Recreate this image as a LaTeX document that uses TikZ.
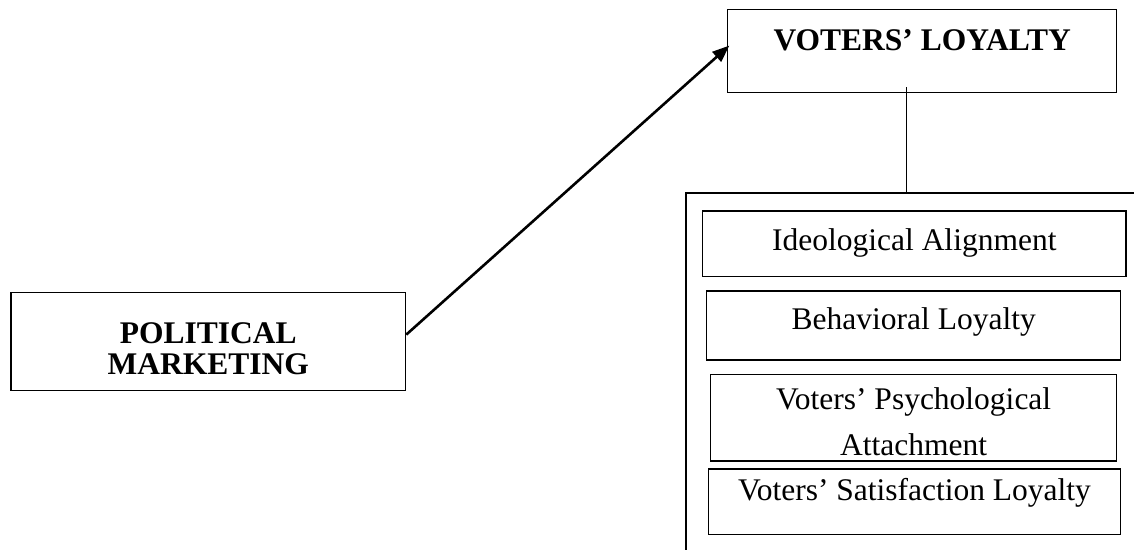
\documentclass[tikz,border=0pt]{standalone}
\usepackage{fontspec}
\setmainfont{Liberation Serif}
\usetikzlibrary{arrows.meta}

\begin{document}
\begin{tikzpicture}[x=1pt, y=-1pt, >={Triangle[length=17pt, width=13pt]},
  box/.style={draw, line width=1.3pt, inner sep=0pt, align=center},
  head/.style={box, font=\fontsize{31.5}{31}\selectfont\bfseries},
  item/.style={box, font=\fontsize{31.5}{45.7}\selectfont}]
  \useasboundingbox (0,0) rectangle (1134,550);
  % left and top boxes
  \node[head, minimum width=394.7pt, text height=82pt, text depth=16.4pt] (pm) at (208.3,341.5) {POLITICAL\\MARKETING};
  \node[head, minimum width=389pt, text height=40.7pt, text depth=42.7pt] (vl) at (922.2,51) {VOTERS’ LOYALTY};
  % dimensions
  \node[item, minimum width=423.3pt, text height=40pt, text depth=25.7pt] (ia) at (914.3,243.8) {Ideological Alignment};
  \node[item, minimum width=414pt, text height=38pt, text depth=31pt] (bl) at (913.7,325.5) {Behavioral Loyalty};
  \node[item, minimum width=406pt, text height=81pt, text depth=5.7pt] (pa) at (913.7,417.7) {Voters’ Psychological\\Attachment};
  \node[item, minimum width=412.4pt, text height=31pt, text depth=34.3pt] (sl) at (914.5,501.7) {Voters’ Satisfaction Loyalty};
  \draw[->, line width=2.6pt, shorten >=-3pt] (pm.2) -- (vl.179);
  \coordinate (stem) at (906.7,87);
  \coordinate (brtl) at (686,193);
  \draw[line width=1.3pt] (stem) -- (stem |- brtl);
  \draw[line width=1.3pt] ([xshift=448pt]brtl) -- (brtl) -- ++(0,357);
\end{tikzpicture}
\end{document}
